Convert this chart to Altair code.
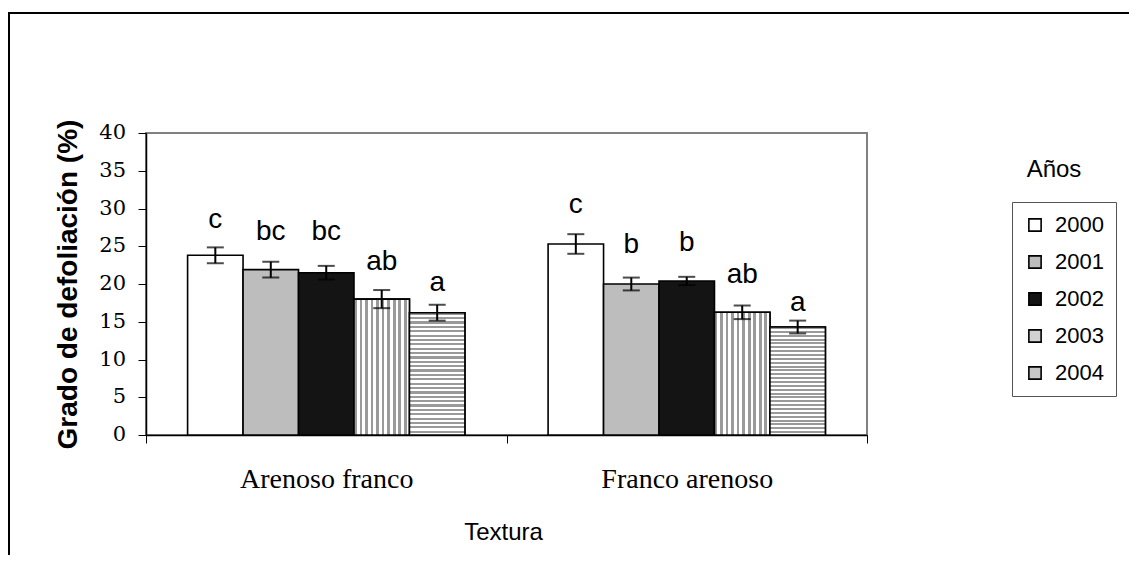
import altair as alt
import pandas as pd

# ---- data ----
years = ["2000", "2001", "2002", "2003", "2004"]
texturas = ["Arenoso franco", "Franco arenoso"]
vals_af = [23.8, 21.9, 21.5, 18.0, 16.2]
vals_fa = [25.3, 20.0, 20.4, 16.25, 14.3]
err_af = [1.05, 1.05, 0.9, 1.2, 1.05]
err_fa = [1.3, 0.85, 0.55, 0.9, 0.85]
letters_af = ["c", "bc", "bc", "ab", "a"]
letters_fa = ["c", "b", "b", "ab", "a"]
laby_af = [28.5, 26.9, 26.9, 22.9, 20.1]
laby_fa = [30.5, 25.2, 25.4, 21.2, 17.5]
y_ticks = [0, 5, 10, 15, 20, 25, 30, 35, 40]
y_tick_text = ["0", "5", "10", "15", "20", "25", "30", "35", "40"]

rows = []
for t, vals, errs, lets, lys in [
    (texturas[0], vals_af, err_af, letters_af, laby_af),
    (texturas[1], vals_fa, err_fa, letters_fa, laby_fa),
]:
    for yr, v, e, l, ly in zip(years, vals, errs, lets, lys):
        rows.append({"textura": t, "year": yr, "value": v, "err": e, "letter": l, "laby": ly})
df = pd.DataFrame(rows)
tick_df = pd.DataFrame({"tick": y_ticks, "ticktxt": y_tick_text})

# ---- styles ----
legend_fills = ["#ffffff", "#bdbdbd", "#141414", "#d2d2d2", "#c6c6c6"]


def stripes(n, horizontal, c1, c2):
    stops = []
    for i in range(n):
        a, b, c = i / n, (i + 0.5) / n, (i + 1) / n
        stops += [
            {"offset": a, "color": c1},
            {"offset": b, "color": c1},
            {"offset": b, "color": c2},
            {"offset": c, "color": c2},
        ]
    g = {"gradient": "linear", "stops": stops, "x1": 0, "y1": 0}
    if horizontal:
        g.update({"x2": 0, "y2": 1})
    else:
        g.update({"x2": 1, "y2": 0})
    return g


grad_v = stripes(10, False, "#9a9a9a", "#ffffff")
grad_h = stripes(28, True, "#9a9a9a", "#ffffff")

x_enc = alt.X(
    "textura:N",
    sort=texturas,
    scale=alt.Scale(paddingInner=0, paddingOuter=0),
    axis=alt.Axis(
        title="Textura",
        labelAngle=0,
        tickBand="extent",
        tickSize=8,
        tickColor="black",
        domainColor="black",
        domainWidth=1.5,
        labelFont="Liberation Serif",
        labelFontSize=28,
        labelColor="black",
        labelPadding=22,
        titleFont="Liberation Sans",
        titleFontSize=24,
        titleFontWeight="normal",
        titleColor="black",
        titleBaseline="alphabetic",
        titleX=357,
        titleY=104,
    ),
)
xo_enc = alt.XOffset(
    "year:N",
    sort=years,
    scale=alt.Scale(domain=years, paddingInner=0, paddingOuter=0.75),
)
y_scale = alt.Scale(domain=[0, 40], nice=False)
y_axis = alt.Axis(
    values=y_ticks,
    title="Grado de defoliación (%)",
    grid=False,
    labels=False,
    tickSize=8,
    tickColor="black",
    domainColor="black",
    domainWidth=1.5,
    titleFont="Liberation Sans",
    titleFontSize=28,
    titleFontWeight="bold",
    titleColor="black",
    titleAngle=-90,
    titleAlign="center",
    titleBaseline="middle",
    titleX=-78,
    titleY=151,
)


def y_enc(f):
    return alt.Y(f, scale=y_scale, axis=y_axis, title="Grado de defoliación (%)")


base = alt.Chart(df)

bars = base.mark_bar(stroke="black", strokeWidth=1.6).encode(
    x=x_enc,
    xOffset=xo_enc,
    y=y_enc("value:Q"),
    fill=alt.Fill(
        "year:N",
        sort=years,
        scale=alt.Scale(domain=years, range=legend_fills),
        legend=alt.Legend(
            title=None,
            orient="none",
            legendX=866,
            legendY=69,
            symbolType="square",
            symbolSize=150,
            symbolStrokeColor="black",
            symbolStrokeWidth=1.6,
            labelFont="Liberation Sans",
            labelFontSize=22,
            labelColor="black",
            labelOffset=9,
            rowPadding=15,
            padding=12,
            strokeColor="#555555",
        ),
    ),
)

bars_2003 = base.transform_filter(alt.datum.year == "2003").mark_bar(
    stroke="black", strokeWidth=1.6, fill=grad_v
).encode(x=x_enc, xOffset=xo_enc, y=y_enc("value:Q"))

bars_2004 = base.transform_filter(alt.datum.year == "2004").mark_bar(
    stroke="black", strokeWidth=1.6, fill=grad_h
).encode(x=x_enc, xOffset=xo_enc, y=y_enc("value:Q"))

err_base = base.transform_calculate(
    lo="datum.value - datum.err", hi="datum.value + datum.err"
)

err_rule = err_base.mark_rule(color="black", strokeWidth=2).encode(
    x=x_enc, xOffset=xo_enc, y=y_enc("lo:Q"), y2="hi:Q"
)
cap_lo = err_base.mark_tick(color="black", thickness=2, size=17).encode(
    x=x_enc, xOffset=xo_enc, y=y_enc("lo:Q")
)
cap_hi = err_base.mark_tick(color="black", thickness=2, size=17).encode(
    x=x_enc, xOffset=xo_enc, y=y_enc("hi:Q")
)

letters = base.mark_text(
    font="Liberation Sans", fontSize=28, color="black", baseline="middle"
).encode(
    x=x_enc, xOffset=xo_enc, y=y_enc("laby:Q"), text="letter:N"
)

# y tick labels in a serif face, drawn through the y scale
tick_labels = alt.Chart(tick_df).mark_text(
    font="DejaVu Serif", fontSize=21, color="black", align="right",
    baseline="middle", clip=False
).encode(
    y=y_enc("tick:Q"), x=alt.value(-20), text="ticktxt:N"
)

legend_title = alt.Chart(pd.DataFrame({"t": ["Años"]})).mark_text(
    font="Liberation Sans", fontSize=24, color="black", baseline="alphabetic", align="center"
).encode(text="t:N", x=alt.value(908), y=alt.value(44))

frame = alt.Chart(pd.DataFrame({"f": [0]})).mark_rect(
    fill="transparent", stroke="black", strokeWidth=2, clip=False
).encode(
    x=alt.value(-137), x2=alt.value(1100), y=alt.value(-120), y2=alt.value(700)
)

chart = (
    alt.layer(bars, bars_2003, bars_2004, err_rule, cap_lo, cap_hi, letters,
              tick_labels, legend_title, frame)
    .properties(
        width=721,
        height=302,
        autosize=alt.AutoSizeParams(type="none"),
        padding={"left": 138, "top": 125, "right": 262, "bottom": 120},
        background="white",
    )
    .configure_view(stroke="#808080", strokeWidth=2)
)

chart.save("out.html", embed_options={"renderer": "svg", "actions": False})
